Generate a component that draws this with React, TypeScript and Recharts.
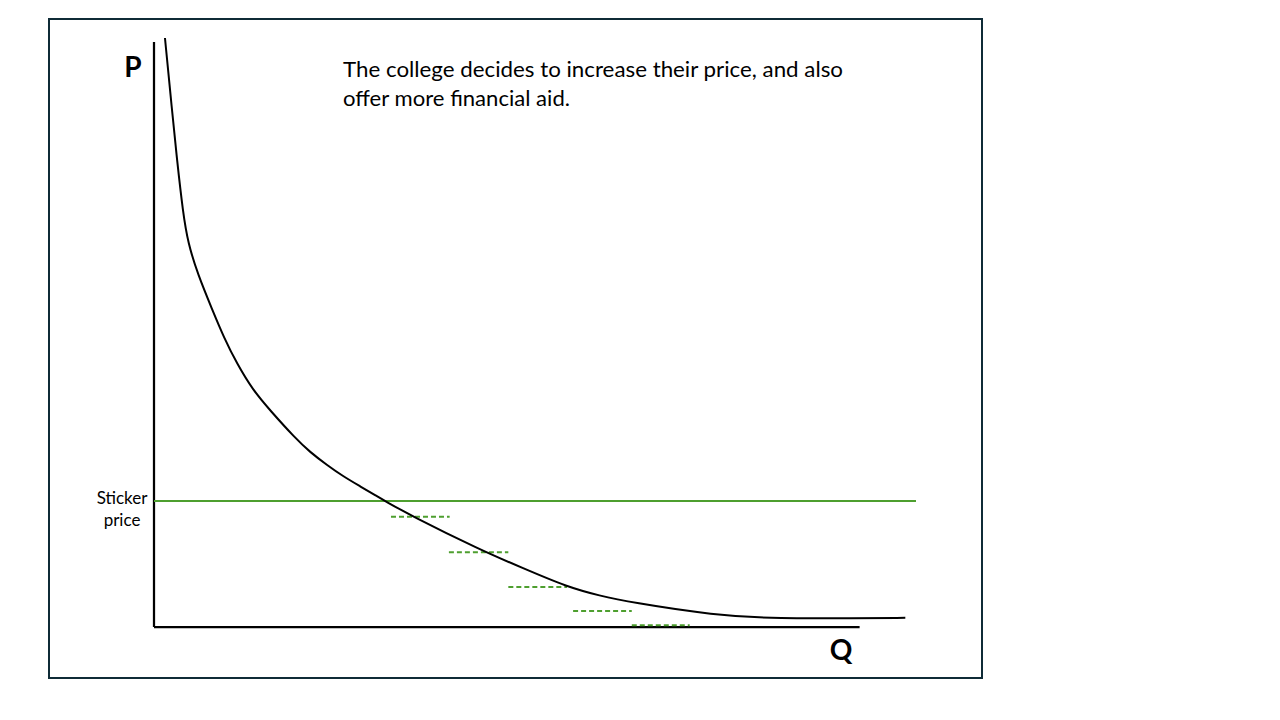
import { LineChart, Line, XAxis, YAxis, ReferenceLine } from 'recharts';

// Demand curve (Q and P on 0–100 scales)
const demandQ = [1.44, 2.36, 3.02, 3.81, 4.46, 5.77, 7.61, 9.19, 10.89, 12.99, 15.22, 18.5, 20.47, 22.7, 24.8, 27.03, 29.27, 30.31, 33.6, 42.8, 48.4, 54.2, 58.5, 62.5, 73.4, 82.2, 91.7, 98.6];
const demandP = [100, 87.8, 79.3, 70.3, 65.2, 59.8, 54.0, 49.1, 44.7, 40.2, 36.8, 32.1, 29.7, 27.5, 25.6, 23.9, 22.2, 21.4, 19.0, 13.1, 10.0, 6.8, 5.3, 4.2, 2.0, 1.4, 1.5, 1.55];

// Sticker price and its reach along Q
const stickerPrice = 21.4;
const stickerQEnd = 100;

// Financial-aid price steps (dashed)
const aidStepP = [18.7, 12.7, 6.8, 2.7, 0.3];
const aidStepFrom = [31.1, 38.7, 46.5, 55.0, 62.7];
const aidStepTo = [38.8, 46.5, 54.2, 62.7, 70.3];

// Drawn axis extents
const yAxisTop = 99.3;
const xAxisEnd = 92.6;

const titleLines = [
  'The college decides to increase their price, and also',
  'offer more financial aid.',
];
const stickerLabel = ['Sticker', 'price'];

const GREEN = '#4e9f2f';

export default function App() {
  const data = demandQ.map((q, i) => ({ q, p: demandP[i] }));

  return (
    <div style={{ position: 'absolute', left: 0, top: 0, width: 1280, height: 720, background: '#fff' }}>
      <div
        style={{
          position: 'absolute',
          left: 48,
          top: 18,
          width: 931,
          height: 657,
          border: '2px solid #0f2b36',
        }}
      />
      <div style={{ position: 'absolute', left: 0, top: 0 }}>
        <LineChart width={1280} height={720} data={data} margin={{ top: 38, right: 364, bottom: 93, left: 154 }}>
          <XAxis type="number" dataKey="q" domain={[0, 100]} hide />
          <YAxis type="number" domain={[0, 100]} hide />
          <ReferenceLine
            segment={[{ x: 0, y: 0 }, { x: 0, y: yAxisTop }]}
            stroke="#000"
            strokeWidth={2.25}
            ifOverflow="visible"
          />
          <ReferenceLine
            segment={[{ x: 0, y: 0 }, { x: xAxisEnd, y: 0 }]}
            stroke="#000"
            strokeWidth={2.25}
            ifOverflow="visible"
          />
          <ReferenceLine
            segment={[{ x: 0, y: stickerPrice }, { x: stickerQEnd, y: stickerPrice }]}
            stroke={GREEN}
            strokeWidth={2}
            ifOverflow="visible"
          />
          {aidStepP.map((p, i) => (
            <ReferenceLine
              key={`aid-${i}`}
              segment={[{ x: aidStepFrom[i], y: p }, { x: aidStepTo[i], y: p }]}
              stroke={GREEN}
              strokeWidth={2}
              strokeDasharray="5 3"
              ifOverflow="visible"
            />
          ))}
          <Line
            type="basis"
            dataKey="p"
            stroke="#000"
            strokeWidth={2}
            dot={false}
            activeDot={false}
            isAnimationActive={false}
          />
        </LineChart>
      </div>
      <svg width={1280} height={720} style={{ position: 'absolute', left: 0, top: 0, pointerEvents: 'none' }}>
        <text x={133} y={77} textAnchor="middle" fontFamily="Lato" fontWeight="bold" fontSize={28} fill="#000">
          P
        </text>
        <text x={841} y={660} textAnchor="middle" fontFamily="Lato" fontWeight="bold" fontSize={28} fill="#000">
          Q
        </text>
        {stickerLabel.map((t, i) => (
          <text key={t} x={122} y={504 + i * 22} textAnchor="middle" fontFamily="Lato" fontSize={17} fill="#000">
            {t}
          </text>
        ))}
        <text x={343} y={77} fontFamily="Lato" fontSize={22} fill="#000" textLength={500} lengthAdjust="spacingAndGlyphs">
          {titleLines[0]}
        </text>
        <text x={343} y={106} fontFamily="Lato" fontSize={22} fill="#000" textLength={227} lengthAdjust="spacingAndGlyphs">
          {titleLines[1]}
        </text>
      </svg>
    </div>
  );
}
